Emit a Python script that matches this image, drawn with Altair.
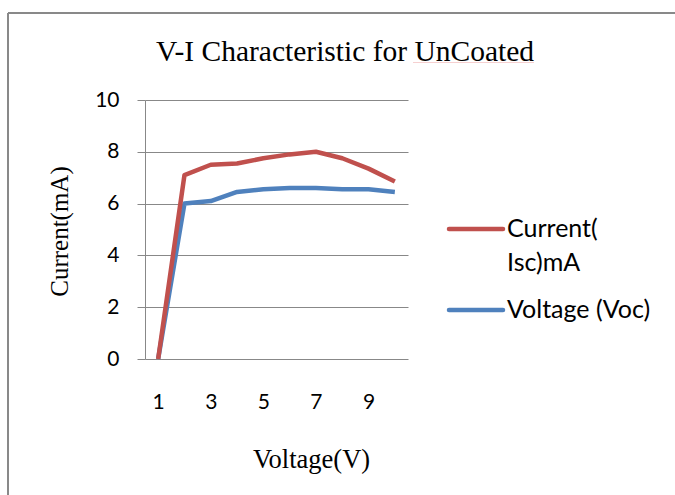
import altair as alt
import pandas as pd

# data
voltage_steps = [1, 2, 3, 4, 5, 6, 7, 8, 9, 10]
current_isc = [0, 7.1, 7.5, 7.55, 7.75, 7.9, 8.0, 7.75, 7.35, 6.85]
voltage_voc = [0, 6.0, 6.1, 6.45, 6.55, 6.6, 6.6, 6.55, 6.55, 6.45]
series_names = ["Voltage (Voc)", "Current( Isc)mA"]
series_colors = ["#4F81BD", "#C0504D"]
x_tick_values = [1, 3, 5, 7, 9]
y_tick_values = [0, 2, 4, 6, 8, 10]
chart_title = "V-I Characteristic for UnCoated"

rows = []
for xv, c, v in zip(voltage_steps, current_isc, voltage_voc):
    rows.append({"x": xv, "value": v, "series": series_names[0], "ord": 0})
    rows.append({"x": xv, "value": c, "series": series_names[1], "ord": 1})
df = pd.DataFrame(rows)

W, H = 263, 259
PL, PT = 145, 100

lines = alt.Chart(df).mark_line(strokeWidth=4.5, strokeJoin="round").encode(
    x=alt.X("x:O", scale=alt.Scale(type="point", padding=0.5),
            axis=alt.Axis(values=x_tick_values, labelAngle=0, ticks=False, domain=False,
                          grid=False, labelFont="Lato", labelFontSize=21, labelColor="#000000",
                          labelBaseline="middle", labelPadding=43,
                          title="Voltage(V)", titleFont="Liberation Serif", titleFontSize=26.5,
                          titleFontWeight="normal", titleColor="#000000",
                          titleX=166, titleY=108, titleBaseline="alphabetic", titleAlign="center")),
    y=alt.Y("value:Q", scale=alt.Scale(domain=[0, 10], nice=False),
            axis=alt.Axis(values=y_tick_values, grid=True, gridColor="#888888", gridWidth=1,
                          domain=True, domainColor="#888888", domainWidth=1,
                          ticks=True, tickSize=8, tickColor="#888888", tickWidth=1,
                          labelFont="Lato", labelFontSize=21, labelColor="#000000", labelPadding=18,
                          title="Current(mA)", titleFont="Liberation Serif", titleFontSize=25,
                          titleFontWeight="normal", titleColor="#000000",
                          titleX=-86, titleY=131, titleAngle=-90,
                          titleBaseline="middle", titleAlign="center")),
    color=alt.Color("series:N", scale=alt.Scale(domain=series_names, range=series_colors), legend=None),
    order=alt.Order("ord:Q"),
    detail="series:N",
)

legend_df = pd.DataFrame({
    "series": series_names,
    "label": ["Voltage (Voc)", "Current(\nIsc)mA"],
})

legend_layers = []
legend_y = {"Current( Isc)mA": 129, "Voltage (Voc)": 210}
for name, col in zip(series_names, series_colors):
    base = alt.Chart(legend_df).transform_filter(alt.datum.series == name)
    legend_layers.append(base.mark_rule(strokeWidth=4.5, strokeCap="round", color=col).encode(
        x=alt.value(304), x2=alt.value(358), y=alt.value(legend_y[name])))
    legend_layers.append(base.mark_text(align="left", baseline="middle", font="Lato", fontSize=25,
                                        color="#000000", lineBreak="\n", lineHeight=34).encode(
        x=alt.value(362), y=alt.value(legend_y[name]), text="label:N"))

title_df = pd.DataFrame({"t": [chart_title]})
title_mark = alt.Chart(title_df).mark_text(font="Liberation Serif", fontSize=29.5, color="#000000",
                                           align="center", baseline="alphabetic").encode(
    x=alt.value(345 - PL), y=alt.value(61 - PT), text="t:N")
spell_underline = alt.Chart(title_df).mark_rule(color="#E88A8A", strokeWidth=1, opacity=0.4).encode(
    x=alt.value(413 - PL), x2=alt.value(534 - PL), y=alt.value(62.5 - PT))

frame_left = alt.Chart(title_df).mark_rule(color="#898989", strokeWidth=2).encode(
    x=alt.value(8 - PL), y=alt.value(13 - PT), y2=alt.value(495 - PT + 10))
frame_top = alt.Chart(title_df).mark_rule(color="#898989", strokeWidth=2).encode(
    x=alt.value(8 - PL), x2=alt.value(675 - PL + 10), y=alt.value(13 - PT))

chart = alt.layer(frame_left, frame_top, spell_underline, title_mark, lines, *legend_layers).properties(
    width=W, height=H,
    autosize=alt.AutoSizeParams(type="none"),
    padding={"left": PL, "top": PT, "right": 675 - PL - W, "bottom": 495 - PT - H},
    background="#ffffff",
).configure_view(stroke=None)

chart.save("out.html", embed_options={"renderer": "svg", "actions": False})
